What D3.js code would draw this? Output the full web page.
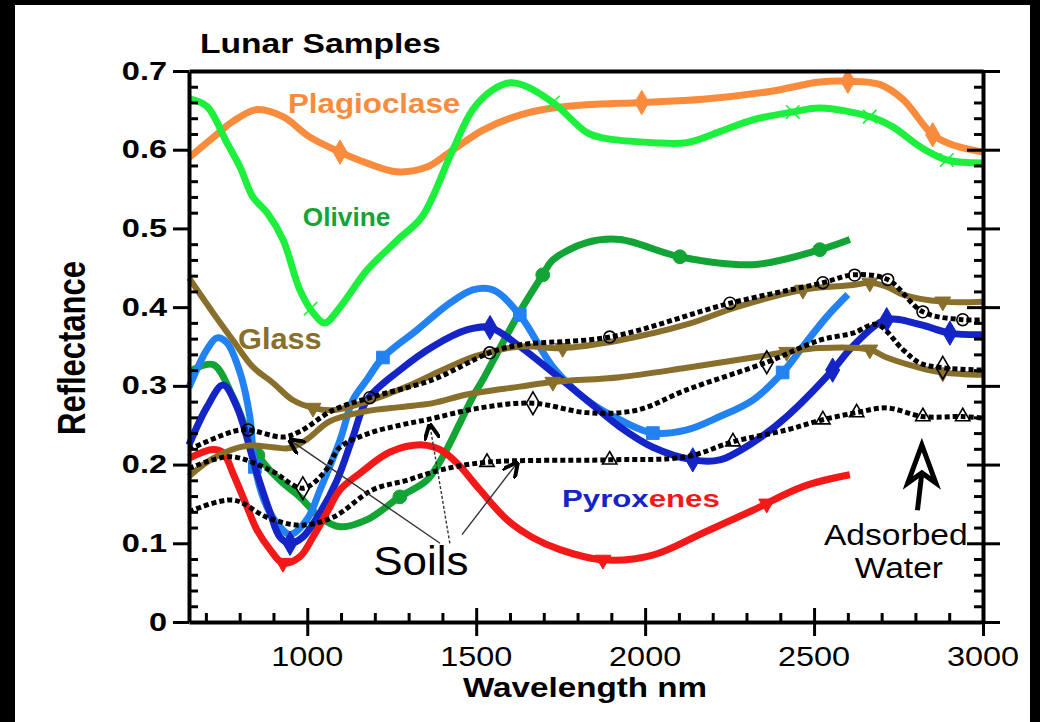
<!DOCTYPE html>
<html lang="en">
<head>
<meta charset="UTF-8">
<title>Lunar Samples</title>
<script src="https://cdn.jsdelivr.net/npm/d3@7"></script>
<style>
    body { margin: 0; background: #000; }
    text { font-family: "Liberation Sans", Arial, sans-serif; }
    .axis path, .axis line { stroke: #000; fill: none; }
</style>
</head>
<body>
<svg id="vis" width="1040" height="722"></svg>
<script>
    // wavelength (nm), reflectance
    const plagioclase = [[650,0.590],[720,0.615],[780,0.636],[851,0.651],[928,0.642],[1008,0.616],[1097,0.597],[1177,0.583],[1265,0.572],[1354,0.578],[1422,0.597],[1520,0.625],[1629,0.644],[1727,0.653],[1827,0.657],[1990,0.660],[2171,0.664],[2369,0.674],[2517,0.686],[2600,0.687],[2694,0.683],[2763,0.664],[2851,0.619],[2911,0.606],[3000,0.597]];
    const olivineA = [[650,0.665],[703,0.655],[762,0.609],[801,0.578],[839,0.540],[881,0.520],[928,0.486],[978,0.422],[1017,0.393],[1052,0.380],[1097,0.400],[1177,0.447],[1274,0.488],[1340,0.515],[1431,0.600],[1490,0.651],[1549,0.676],[1600,0.685],[1640,0.682],[1727,0.660],[1827,0.622],[1875,0.615],[2023,0.609],[2123,0.609],[2221,0.623],[2319,0.638],[2437,0.648],[2517,0.653],[2665,0.642],[2733,0.629],[2813,0.604],[2893,0.587],[3000,0.583]];
    const olivineB = [[650,0.318],[721,0.327],[780,0.286],[854,0.212],[919,0.180],[978,0.159],[1038,0.133],[1097,0.121],[1177,0.130],[1274,0.159],[1354,0.180],[1401,0.210],[1452,0.253],[1490,0.286],[1520,0.308],[1629,0.394],[1697,0.441],[1727,0.460],[1827,0.482],[1925,0.486],[2103,0.464],[2319,0.454],[2517,0.473],[2606,0.486]];
    const pyroxeneLight = [[650,0.298],[703,0.346],[733,0.361],[762,0.355],[801,0.317],[830,0.261],[845,0.197],[881,0.146],[919,0.121],[949,0.111],[999,0.130],[1038,0.168],[1097,0.231],[1135,0.282],[1177,0.308],[1224,0.336],[1325,0.371],[1422,0.405],[1490,0.422],[1549,0.422],[1629,0.390],[1727,0.324],[1827,0.282],[1925,0.257],[2023,0.240],[2123,0.244],[2221,0.261],[2319,0.282],[2407,0.317],[2467,0.350],[2538,0.388],[2600,0.416]];
    const pyroxeneDark = [[650,0.225],[703,0.273],[751,0.301],[792,0.273],[851,0.189],[890,0.139],[919,0.108],[949,0.100],[987,0.108],[1038,0.139],[1088,0.180],[1135,0.235],[1177,0.282],[1274,0.320],[1372,0.350],[1472,0.371],[1541,0.374],[1629,0.350],[1727,0.317],[1827,0.282],[1925,0.248],[2023,0.222],[2141,0.206],[2221,0.206],[2319,0.228],[2419,0.261],[2555,0.320],[2614,0.350],[2715,0.384],[2813,0.378],[2902,0.367],[3000,0.365]];
    const pyroxeneRed = [[650,0.208],[721,0.219],[751,0.215],[780,0.189],[822,0.146],[851,0.117],[890,0.092],[928,0.075],[978,0.083],[1017,0.108],[1058,0.139],[1097,0.168],[1156,0.189],[1245,0.216],[1342,0.225],[1393,0.219],[1443,0.202],[1511,0.168],[1591,0.130],[1668,0.107],[1748,0.092],[1875,0.079],[2023,0.085],[2171,0.113],[2319,0.142],[2467,0.172],[2606,0.187]];
    const glassA = [[650,0.437],[721,0.393],[780,0.358],[839,0.324],[898,0.304],[957,0.282],[1017,0.272],[1076,0.269],[1177,0.280],[1300,0.300],[1400,0.320],[1500,0.338],[1629,0.350],[1756,0.348],[1925,0.358],[2123,0.378],[2271,0.400],[2467,0.422],[2615,0.428],[2665,0.431],[2715,0.426],[2763,0.416],[2881,0.407],[3000,0.407]];
    const glassB = [[650,0.185],[721,0.208],[821,0.224],[898,0.222],[949,0.221],[999,0.232],[1067,0.255],[1177,0.268],[1274,0.273],[1372,0.278],[1472,0.289],[1629,0.299],[1727,0.305],[1925,0.311],[2123,0.323],[2319,0.336],[2419,0.343],[2517,0.348],[2665,0.346],[2715,0.336],[2813,0.323],[2881,0.317],[3000,0.314]];
    const soilA = [[650,0.219],[780,0.242],[825,0.244],[928,0.235],[978,0.242],[1076,0.269],[1185,0.285],[1372,0.308],[1540,0.342],[1629,0.352],[1895,0.362],[2251,0.405],[2526,0.431],[2615,0.441],[2718,0.435],[2822,0.394],[2940,0.384],[3000,0.384]];
    const soilB = [[650,0.195],[771,0.210],[890,0.193],[987,0.170],[1050,0.190],[1097,0.222],[1185,0.240],[1274,0.250],[1354,0.257],[1511,0.272],[1668,0.278],[1827,0.266],[1975,0.269],[2123,0.295],[2360,0.330],[2517,0.358],[2615,0.367],[2686,0.378],[2763,0.346],[2813,0.329],[2881,0.323],[3000,0.320]];
    const soilC = [[650,0.140],[780,0.155],[881,0.133],[978,0.123],[1076,0.133],[1194,0.168],[1295,0.180],[1393,0.193],[1532,0.203],[1895,0.206],[2123,0.210],[2260,0.229],[2419,0.244],[2526,0.257],[2626,0.266],[2715,0.272],[2822,0.261],[2940,0.261],[3000,0.259]];

    // wavelengths carrying a symbol
    const plagioclaseMarks = [1097, 1990, 2600, 2851];
    const olivineAMarks = [1010, 1727, 2437, 2665, 2893];
    const olivineBMarks = [854, 1274, 1697, 2103, 2517];
    const pyroxeneLightMarks = [845, 1224, 1629, 2023, 2407];
    const pyroxeneDarkMarks = [949, 1541, 2141, 2555, 2715, 2902];
    const pyroxeneRedMarks = [928, 1875, 2360];
    const glassAMarks = [1017, 1756, 2467, 2665, 2881];
    const glassBMarks = [1727, 2419, 2665, 2881];
    const soilAMarks = [825, 1185, 1540, 1895, 2251, 2526, 2620, 2718, 2822, 2940];
    const soilBMarks = [987, 1668, 2360, 2881];
    const soilCMarks = [1532, 1895, 2260, 2526, 2626, 2822, 2940];

    const xTicks = [1000, 1500, 2000, 2500, 3000];
    const xMinor = d3.range(700, 3000, 100).filter(d => d % 500 !== 0);
    const yTicks = [0, 0.1, 0.2, 0.3, 0.4, 0.5, 0.6, 0.7];
    const yTickLabels = ["0", "0.1", "0.2", "0.3", "0.4", "0.5", "0.6", "0.7"];
    const yMinor = d3.range(1, 35).map(d => d * 0.02).filter(d => Math.round(d * 100) % 10 !== 0);

    let svg = d3.select("#vis");
    svg.append("rect").attr("x", 15).attr("y", 5).attr("width", 1015).attr("height", 717).attr("fill", "#fff");

    let x = d3.scaleLinear().domain([650, 3000]).range([189, 983]);
    let y = d3.scaleLinear().domain([0, 0.7]).range([622, 71]);

    function at(series, wl) {
        let i = d3.bisector(d => d[0]).left(series, wl);
        if (i <= 0) return series[0][1];
        if (i >= series.length) return series[series.length - 1][1];
        let a = series[i - 1], b = series[i];
        return a[1] + (b[1] - a[1]) * (wl - a[0]) / (b[0] - a[0]);
    }

    // stretched text, the original lettering is wider than Arial
    function label(txt, px, py, size, sx, opts) {
        opts = opts || {};
        return svg.append("text")
            .attr("transform", "translate(" + px + "," + py + ") scale(" + sx + ",1)" + (opts.rotate ? " rotate(-90)" : ""))
            .attr("text-anchor", opts.anchor || "start")
            .attr("font-size", size)
            .attr("font-weight", opts.bold ? "bold" : "normal")
            .attr("fill", opts.color || "#000")
            .text(txt);
    }

    /* series */
    let line = d3.line().x(d => x(d[0])).y(d => y(d[1])).curve(d3.curveCatmullRom.alpha(0.5));

    let series = [
        {data: plagioclase, marks: plagioclaseMarks, color: "#f98b3c", w: 7, shape: d3.symbolDiamond, size: 170, fill: true},
        {data: olivineA, marks: olivineAMarks, color: "#1cf03c", w: 7, shape: d3.symbolTimes || d3.symbolCross, size: 120, fill: false},
        {data: olivineB, marks: olivineBMarks, color: "#12a435", w: 7, shape: d3.symbolCircle, size: 150, fill: true},
        {data: pyroxeneLight, marks: pyroxeneLightMarks, color: "#2382f2", w: 7, shape: d3.symbolSquare, size: 160, fill: true},
        {data: pyroxeneDark, marks: pyroxeneDarkMarks, color: "#1424c6", w: 7, shape: d3.symbolDiamond, size: 170, fill: true},
        {data: pyroxeneRed, marks: pyroxeneRedMarks, color: "#f31919", w: 7, shape: d3.symbolTriangle, size: 110, fill: true, rot: 180},
        {data: glassA, marks: glassAMarks, color: "#88702c", w: 6, shape: d3.symbolTriangle, size: 110, fill: true, rot: 180},
        {data: glassB, marks: glassBMarks, color: "#88702c", w: 6, shape: d3.symbolTriangle, size: 110, fill: true, rot: 180},
        {data: soilA, marks: soilAMarks, color: "#000", w: 5, dash: "5,3", shape: d3.symbolCircle, size: 110, fill: false},
        {data: soilB, marks: soilBMarks, color: "#000", w: 5, dash: "5,3", shape: d3.symbolDiamond, size: 150, fill: false},
        {data: soilC, marks: soilCMarks, color: "#000", w: 5, dash: "5,3", shape: d3.symbolTriangle, size: 90, fill: false}
    ];

    series.forEach(function(s) {
        svg.append("path")
            .datum(s.data)
            .attr("d", line)
            .attr("fill", "none")
            .attr("stroke", s.color)
            .attr("stroke-width", s.w)
            .attr("stroke-dasharray", s.dash || null)
            .attr("stroke-linejoin", "round");

        svg.append("g").selectAll("path")
            .data(s.marks)
            .join("path")
            .attr("transform", d => "translate(" + x(d) + "," + y(at(s.data, d)) + ") rotate(" + (s.rot || 0) + ")")
            .attr("d", d3.symbol().type(s.shape).size(s.size))
            .attr("fill", s.fill ? s.color : "#fff")
            .attr("fill-opacity", s.fill ? 1 : 0)
            .attr("stroke", s.color)
            .attr("stroke-width", s.fill ? 1 : 1.6);
    });

    /* axes */
    let tick = g => g.attr("class", "axis").call(g => g.selectAll("line").attr("stroke-width", 3)).call(g => g.select(".domain").attr("stroke-width", 4));
    let noDomain = g => g.select(".domain").remove();

    svg.append("g").attr("transform", "translate(189,0)")
        .call(d3.axisLeft(y).tickValues(yTicks).tickSizeInner(16).tickSizeOuter(0).tickFormat("")).call(tick);
    svg.append("g").attr("transform", "translate(189,0)")
        .call(d3.axisRight(y).tickValues(yMinor).tickSize(9).tickFormat("")).call(tick).call(noDomain);

    svg.append("g").attr("transform", "translate(983,0)")
        .call(d3.axisRight(y).tickValues(yTicks).tickSizeInner(17).tickSizeOuter(0).tickFormat("")).call(tick);
    svg.append("g").attr("transform", "translate(983,0)")
        .call(d3.axisLeft(y).tickValues(yTicks.slice(1, -1)).tickSize(16).tickFormat("")).call(tick).call(noDomain);
    svg.append("g").attr("transform", "translate(983,0)")
        .call(d3.axisLeft(y).tickValues(yMinor).tickSize(9).tickFormat("")).call(tick).call(noDomain);

    svg.append("g").attr("transform", "translate(0,622)")
        .call(d3.axisBottom(x).tickValues(xTicks).tickSizeInner(14).tickSizeOuter(0).tickFormat("")).call(tick);
    svg.append("g").attr("transform", "translate(0,622)")
        .call(d3.axisTop(x).tickValues(xTicks).tickSize(14).tickFormat("")).call(tick).call(noDomain);
    svg.append("g").attr("transform", "translate(0,622)")
        .call(d3.axisTop(x).tickValues(xMinor).tickSize(9).tickFormat("")).call(tick).call(noDomain);
    svg.append("g").attr("transform", "translate(0,71)")
        .call(d3.axisTop(x).tickValues([]).tickSizeOuter(0)).call(tick);

    yTicks.forEach((v, i) => label(yTickLabels[i], 167, y(v) + 8.5, 25, 1.3, {anchor: "end", bold: true}));
    xTicks.forEach(v => label(String(v), x(v), 666, 27, 1.2, {anchor: "middle"}));

    label("Lunar Samples", 200, 53, 28, 1.2, {bold: true});
    label("Wavelength nm", 585, 697, 27, 1.23, {anchor: "middle", bold: true});
    label("Reflectance", 85, 348, 31, 1.25, {anchor: "middle", bold: true, rotate: true});

    /* annotations */
    label("Plagioclase", x(943), y(0.647), 27, 1.16, {bold: true, color: "#f98b3c"});
    label("Olivine", x(987), y(0.503), 25, 1.05, {bold: true, color: "#12a435"});
    label("Glass", x(795), y(0.347), 29, 1.06, {bold: true, color: "#88702c"});
    let pyr = label("", x(1754), y(0.146), 24, 1.3, {bold: true});
    pyr.append("tspan").attr("fill", "#1424c6").text("Pyrox");
    pyr.append("tspan").attr("fill", "#f31919").text("enes");
    label("Soils", x(1195), y(0.060), 40, 1.1, {});
    label("Adsorbed", x(2742), y(0.098), 30, 1.12, {anchor: "middle"});
    label("Water", x(2751), y(0.056), 30, 1.12, {anchor: "middle"});

    svg.append("defs").append("marker")
        .attr("id", "head").attr("viewBox", "0 0 10 10").attr("refX", 9).attr("refY", 5)
        .attr("markerWidth", 16).attr("markerHeight", 16).attr("orient", "auto").attr("markerUnits", "userSpaceOnUse")
        .append("path").attr("d", "M0,0 L10,5 L0,10").attr("fill", "none").attr("stroke", "#000").attr("stroke-width", 2.5);

    const soilArrows = [[[1393, 0.100], [949, 0.231]], [[1422, 0.100], [1363, 0.250]], [[1458, 0.111], [1621, 0.202]]];
    soilArrows.forEach(function(a, i) {
        svg.append("line")
            .attr("x1", x(a[0][0])).attr("y1", y(a[0][1]))
            .attr("x2", x(a[1][0])).attr("y2", y(a[1][1]))
            .attr("stroke", "#333").attr("stroke-width", 1.4)
            .attr("stroke-dasharray", i === 1 ? "3,2" : null)
            .attr("marker-end", "url(#head)");
    });

    // adsorbed water arrow
    let tx = x(2819), ty = y(0.225);
    svg.append("path")
        .attr("d", "M" + (tx - 14) + "," + (ty + 38) + " L" + tx + "," + ty + " L" + (tx + 14) + "," + (ty + 38) + " L" + tx + "," + (ty + 28) + " Z")
        .attr("fill", "none").attr("stroke", "#000").attr("stroke-width", 5).attr("stroke-linejoin", "miter");
    svg.append("line").attr("x1", tx).attr("y1", ty + 28).attr("x2", x(2806)).attr("y2", y(0.142))
        .attr("stroke", "#000").attr("stroke-width", 5);
</script>
</body>
</html>
